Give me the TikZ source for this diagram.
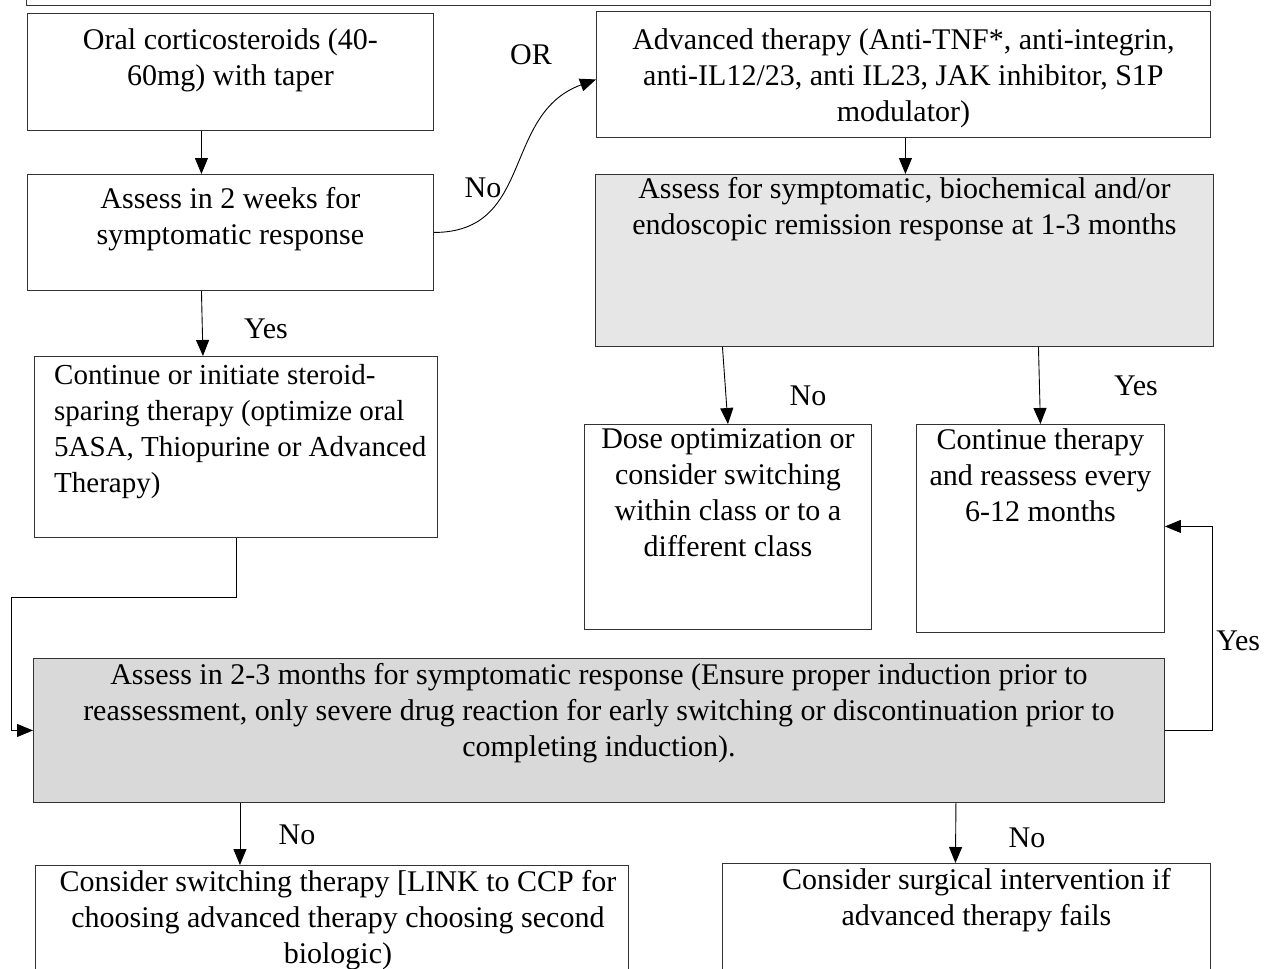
\documentclass[tikz,border=0pt]{standalone}
\usepackage{fontspec}
\setmainfont{Liberation Serif}
\usepackage{xcolor}
\usetikzlibrary{arrows.meta,positioning}
\definecolor{shadeA}{HTML}{E7E6E6}
\definecolor{shadeB}{HTML}{D9D9D9}

\begin{document}
\begin{tikzpicture}[
  x=1pt, y=-1pt,
  every node/.style={font=\fontsize{30}{36}\selectfont},
  box/.style={draw=black!80, line width=0.9pt, anchor=north west,
              inner sep=0pt, fill=white},
  greybox/.style={box, fill=shadeA},
  darkbox/.style={box, fill=shadeB},
  txt/.style={align=center, inner sep=0pt, anchor=north},
  txtl/.style={align=left, inner sep=0pt},
  arr/.style={-{Triangle[length=16pt,width=13pt]}, line width=0.9pt},
  lbl/.style={inner sep=0pt}
]
\useasboundingbox (0,0) rectangle (1270,969);
\clip (0,0) rectangle (1270,969);

% boxes
\node[box, minimum width=1184pt, minimum height=46pt, anchor=south west] (hdr) at (26,6) {};
\node[box, minimum width=406pt, minimum height=117pt] (oral)  at (27,13)  {};
\node[box, minimum width=406pt, minimum height=116pt] (twowk) at (27,174) {};
\node[box, minimum width=403pt, minimum height=181pt] (spare) at (34,356) {};
\node[box, minimum width=614pt, minimum height=126pt] (adv)   at (596,11) {};
\node[greybox, minimum width=618pt, minimum height=172pt] (remis) at (595,174) {};
\node[box, minimum width=287pt, minimum height=205pt] (dose)  at (584,424) {};
\node[box, minimum width=248pt, minimum height=208pt] (keep)  at (916,424) {};
\node[darkbox, minimum width=1131pt, minimum height=144pt] (reass) at (33,658) {};
\node[box, minimum width=593pt, minimum height=160pt] (switch) at (35,865) {};
\node[box, minimum width=488pt, minimum height=160pt] (surg)  at (722,863) {};

% texts
\node[txt, below=15pt of oral.north] (oral-t) {Oral corticosteroids (40-\\60mg) with taper};
\node[txt, below=13pt of twowk.north] (twowk-t) {Assess in 2 weeks for\\symptomatic response};
\node[txtl, below right=8pt and 20pt of spare.north west, font=\fontsize{29}{36}\selectfont] (spare-t)
  {Continue or initiate steroid-\\sparing therapy (optimize oral\\5ASA, Thiopurine or Advanced\\Therapy)};
\node[txt, below=17pt of adv.north] (adv-t)
  {Advanced therapy (Anti-TNF*, anti-integrin,\\anti-IL12/23, anti IL23, JAK inhibitor, S1P\\modulator)};
\node[txt, below=3pt of remis.north] (remis-t)
  {Assess for symptomatic, biochemical and/or\\endoscopic remission response at 1-3 months};
\node[txt, below=4pt of dose.north] (dose-t)
  {Dose optimization or\\consider switching\\within class or to a\\different class};
\node[txt, below=4pt of keep.north] (keep-t)
  {Continue therapy\\and reassess every\\6-12 months};
\node[txt, below=5pt of reass.north] (reass-t)
  {Assess in 2-3 months for symptomatic response (Ensure proper induction prior to\\reassessment, only severe drug reaction for early switching or discontinuation prior to\\completing induction).};
\node[txt, below=5pt of switch.north, xshift=6pt] (switch-t)
  {Consider switching therapy [LINK to CCP for\\choosing advanced therapy choosing second\\biologic)};
\node[txt, below=5pt of surg.north, xshift=10pt] (surg-t)
  {Consider surgical intervention if\\advanced therapy fails};

% labels
\node[lbl] (or)   at (531,55)  {OR};
\node[lbl] (no1)  at (483,188) {No};
\node[lbl] (yes1) at (266,329) {Yes};
\node[lbl] (no2)  at (808,396) {No};
\node[lbl] (yes2) at (1136,386) {Yes};
\node[lbl] (no3)  at (297,835) {No};
\node[lbl] (no4)  at (1027,838) {No};

% connectors
\draw[arr] ([xshift=-29pt]oral.south) -- ([xshift=-29pt]twowk.north);
\draw[arr] ([xshift=-29pt]twowk.south) -- ([xshift=-33pt]spare.north);
\draw[arr] (twowk.east) to[out=0, in=200, looseness=1.15] ([yshift=-5pt]adv.west);
\draw[arr] ([xshift=2pt]adv.south) -- ([xshift=1pt]remis.north);
\draw[arr] ([xshift=-182pt]remis.south) -- (dose.north);
\draw[arr] ([xshift=134pt]remis.south) -- (keep.north);
\draw[arr] (spare.south) -- ++(0,60) -| ([xshift=-22pt]reass.west) -- (reass.west);
\draw[arr] (reass.east) -- ++(48,0) |- ([yshift=2pt]keep.east)
  node[lbl, pos=0.22, right=3pt] (yes3) {Yes};
\draw[arr] ([xshift=-359pt]reass.south) -- ([xshift=-92pt]switch.north);
\draw[arr] ([xshift=357pt]reass.south) -- ([xshift=-11pt]surg.north);
\end{tikzpicture}
\end{document}
